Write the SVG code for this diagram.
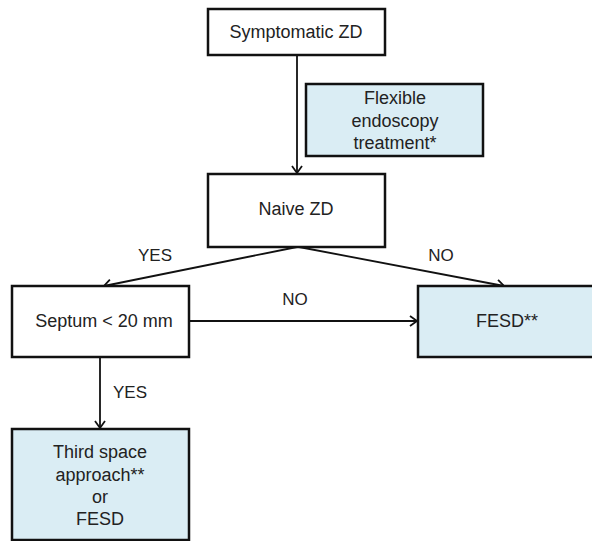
<svg xmlns="http://www.w3.org/2000/svg" width="592" height="541" viewBox="0 0 592 541">
<style>
.box{fill:#ffffff;stroke:#111;stroke-width:2.5}
.blue{fill:#daedf4;stroke:#111;stroke-width:2.5}
text{font-family:"Liberation Sans",Arial,sans-serif;font-size:18px;fill:#222;text-anchor:middle}
.lbl{font-size:17px}
.conn{stroke:#111;stroke-width:1.8;fill:none;marker-end:url(#ah)}
</style>
<defs>
<marker id="ah" markerWidth="12" markerHeight="12" refX="10" refY="6" orient="auto" markerUnits="userSpaceOnUse">
<polyline points="3,1 10,6 3,11" fill="none" stroke="#111" stroke-width="1.8"/>
</marker>
</defs>
<rect width="592" height="541" fill="#fff"/>
<g id="connectors">
<line class="conn" x1="297" y1="55" x2="297" y2="173"/>
<line class="conn" x1="297" y1="247" x2="104" y2="286"/>
<line class="conn" x1="299" y1="247" x2="504" y2="286"/>
<line class="conn" x1="189" y1="321" x2="417" y2="321"/>
<line class="conn" x1="100" y1="357" x2="100" y2="428"/>
<text class="lbl" x="155" y="261">YES</text>
<text class="lbl" x="441" y="261">NO</text>
<text class="lbl" x="295" y="305">NO</text>
<text class="lbl" x="130" y="398">YES</text>
</g>
<g id="symptomatic">
<rect class="box" x="208" y="9" width="177" height="46"/>
<text x="296" y="38">Symptomatic ZD</text>
</g>
<g id="flexible">
<rect class="blue" x="306" y="84" width="177" height="72"/>
<text x="395" y="104">Flexible</text>
<text x="395" y="127">endoscopy</text>
<text x="395" y="149">treatment*</text>
</g>
<g id="naive">
<rect class="box" x="208" y="174" width="177" height="73"/>
<text x="296" y="215">Naive ZD</text>
</g>
<g id="septum">
<rect class="box" x="12" y="286" width="177" height="71"/>
<text x="104" y="327">Septum &lt; 20 mm</text>
</g>
<g id="fesd">
<rect class="blue" x="418" y="286" width="180" height="71"/>
<text x="507" y="327">FESD**</text>
</g>
<g id="thirdspace">
<rect class="blue" x="12" y="429" width="177" height="111"/>
<text x="100" y="458">Third space</text>
<text x="100" y="481">approach**</text>
<text x="100" y="503">or</text>
<text x="100" y="525">FESD</text>
</g>
</svg>
